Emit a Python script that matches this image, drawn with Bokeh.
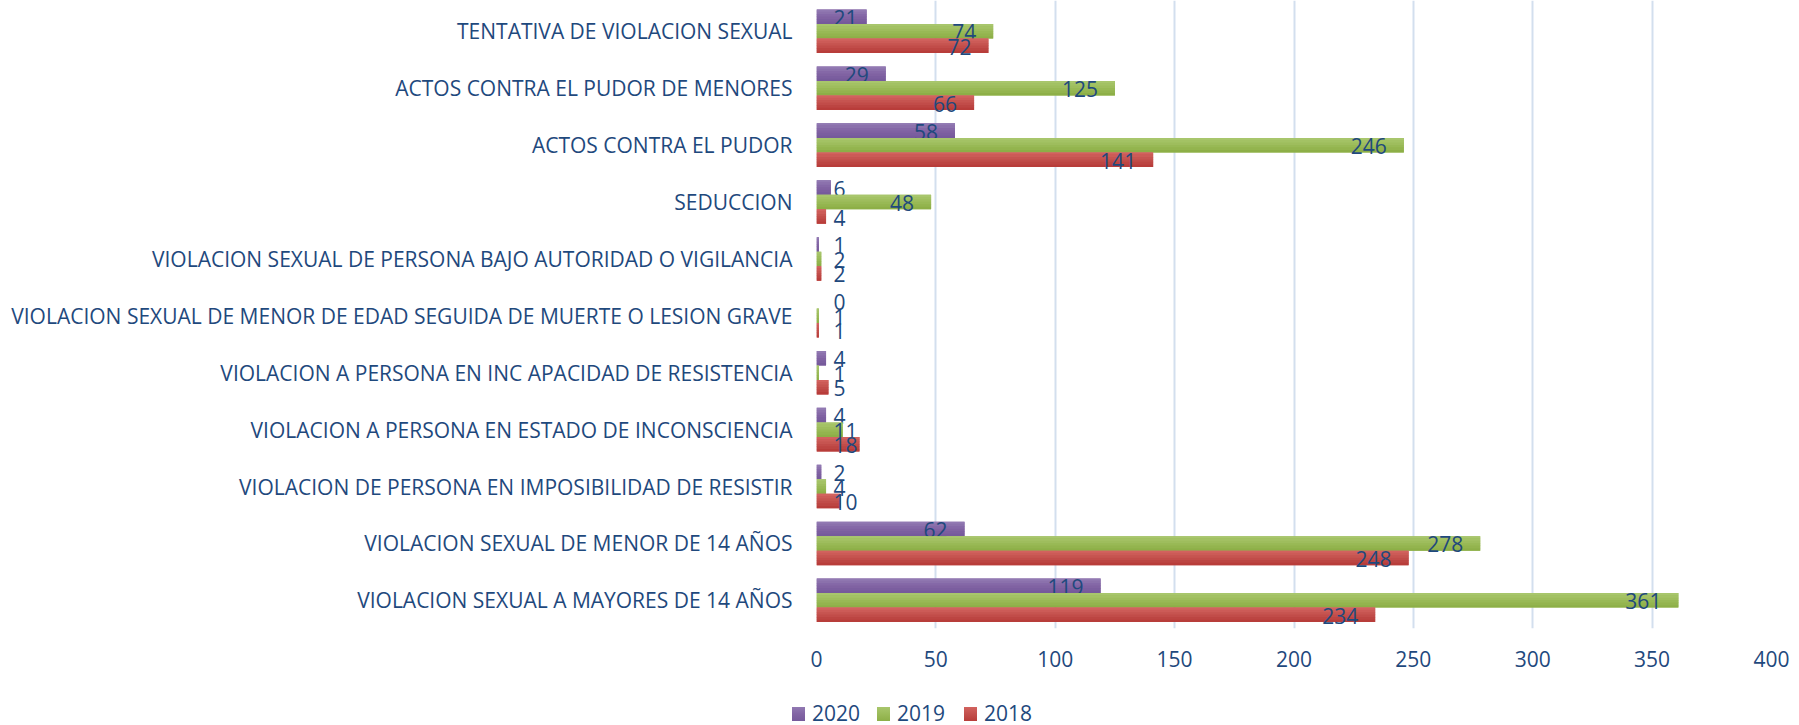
from bokeh.plotting import figure
from bokeh.layouts import column
from bokeh.models import Range1d, FixedTicker, Div
from bokeh.core.properties import value
from bokeh.embed import file_html
from bokeh.resources import INLINE

categories = [
    "TENTATIVA DE VIOLACION SEXUAL",
    "ACTOS CONTRA EL PUDOR DE MENORES",
    "ACTOS CONTRA EL PUDOR",
    "SEDUCCION",
    "VIOLACION SEXUAL DE PERSONA BAJO AUTORIDAD O VIGILANCIA",
    "VIOLACION SEXUAL DE MENOR DE EDAD SEGUIDA DE MUERTE O LESION GRAVE",
    "VIOLACION A PERSONA EN INC APACIDAD DE RESISTENCIA",
    "VIOLACION A PERSONA EN ESTADO DE INCONSCIENCIA",
    "VIOLACION DE PERSONA EN IMPOSIBILIDAD DE RESISTIR",
    "VIOLACION SEXUAL DE MENOR DE 14 AÑOS",
    "VIOLACION SEXUAL A MAYORES DE 14 AÑOS",
]
series_names = ["2020", "2019", "2018"]
v2020 = [21, 29, 58, 6, 1, 0, 4, 4, 2, 62, 119]
v2019 = [74, 125, 246, 48, 2, 1, 1, 11, 4, 278, 361]
v2018 = [72, 66, 141, 4, 2, 1, 5, 18, 10, 248, 234]
x_ticks = [0, 50, 100, 150, 200, 250, 300, 350, 400]

FONT = "Open Sans"
TXT = "#1F497D"
FS = "21px"
shades = {  # light top, base, dark bottom
    "2020": ["#9179B2", "#8264A4", "#765A9B"],
    "2019": ["#A8C66C", "#9BBB59", "#8DAF47"],
    "2018": ["#D2625E", "#C3504D", "#B83D3A"],
}


def mix(c1, c2, t):
    a = [int(c1[i:i + 2], 16) for i in (1, 3, 5)]
    b = [int(c2[i:i + 2], 16) for i in (1, 3, 5)]
    return "#" + "".join(f"{round(x + (y - x) * t):02X}" for x, y in zip(a, b))


W, H1, H2 = 1799, 690, 35
LEFT, RIGHT, TOP, BOTTOM = 816, 28, 0, 62
px_per_unit = (W - LEFT - RIGHT) / (x_ticks[-1] - x_ticks[0])

n = len(categories)
ycenter = [n - 1 - i for i in range(n)]

p = figure(width=W, height=H1, output_backend="svg", toolbar_location=None,
           x_range=Range1d(x_ticks[0], x_ticks[-1]), y_range=Range1d(-0.495, n - 1 + 0.542),
           min_border_left=LEFT, min_border_right=RIGHT, min_border_top=TOP,
           min_border_bottom=BOTTOM, margin=0)
p.outline_line_color = None
p.background_fill_color = "white"
p.border_fill_color = "white"

bar_h = 0.255
offsets = [bar_h, 0.0, -bar_h]
NS = 6
for s, vals, off in zip(series_names, [v2020, v2019, v2018], offsets):
    light, base, dark = shades[s]
    ys = [y + off for y in ycenter]
    p.hbar(y=ys, right=vals, left=0, height=bar_h, fill_color=base, line_color=None)
    strip = bar_h / NS
    for k in range(NS):
        t = k / (NS - 1)
        col = mix(light, base, t * 2) if t <= 0.5 else mix(base, dark, (t - 0.5) * 2)
        yk = [y + bar_h / 2 - strip * (k + 0.5) for y in ys]
        hk = strip * (1.0 if k in (0, NS - 1) else 1.2)
        p.hbar(y=yk, right=vals, left=0, height=hk, fill_color=col, line_color=None)

    # data labels (Excel "inside end", clamped to inside base)
    pad = 17
    in_x, in_y, in_t, cl_x, cl_y, cl_t = [], [], [], [], [], []
    for y, v in zip(ys, vals):
        tw = 11.8 * len(str(v))
        if v * px_per_unit - pad - tw < pad:
            cl_x.append(0); cl_y.append(y); cl_t.append(str(v))
        else:
            in_x.append(v); in_y.append(y); in_t.append(str(v))
    p.text(x=in_x, y=in_y, text=in_t, text_align="right", text_baseline="middle",
           x_offset=-pad, y_offset=1, text_font=value(FONT), text_font_size=FS, text_color=TXT)
    p.text(x=cl_x, y=cl_y, text=cl_t, text_align="left", text_baseline="middle",
           x_offset=pad, y_offset=1, text_font=value(FONT), text_font_size=FS, text_color=TXT)

# axes
p.xaxis.ticker = FixedTicker(ticks=x_ticks)
p.xaxis.axis_line_color = None
p.xaxis.major_tick_line_color = None
p.xaxis.minor_tick_line_color = None
p.xaxis.major_tick_out = 0
p.xaxis.major_tick_in = 0
p.xaxis.major_label_standoff = 22
p.xaxis.major_label_text_font = FONT
p.xaxis.major_label_text_font_size = FS
p.xaxis.major_label_text_color = TXT

p.yaxis.ticker = FixedTicker(ticks=ycenter)
p.yaxis.major_label_overrides = {y: c for y, c in zip(ycenter, categories)}
p.yaxis.axis_line_color = None
p.yaxis.major_tick_line_color = None
p.yaxis.minor_tick_line_color = None
p.yaxis.major_tick_out = 0
p.yaxis.major_tick_in = 0
p.yaxis.major_label_standoff = 24
p.yaxis.major_label_text_font = FONT
p.yaxis.major_label_text_font_size = FS
p.yaxis.major_label_text_color = TXT

p.xgrid.ticker = FixedTicker(ticks=x_ticks)
p.xgrid.grid_line_color = "#D3DFEE"
p.xgrid.grid_line_width = 2
p.ygrid.grid_line_color = None

# legend strip as HTML (exact pixel placement below the chart)
sq_left = [792, 877, 964]
parts = []
for s, x0 in zip(series_names, sq_left):
    light, base, dark = shades[s]
    parts.append(
        f'<span style="position:absolute;left:{x0}px;top:17px;width:13px;height:14px;'
        f'background:linear-gradient(to bottom,{light},{base},{dark});"></span>'
        f'<span style="position:absolute;left:{x0 + 20}px;top:13px;line-height:1;'
        f'white-space:nowrap;">{s}</span>')
html = (f'<div style="position:relative;width:{W}px;height:{H2}px;margin:0;padding:0;'
        f'font-family:\'{FONT}\';font-size:{FS};color:{TXT};">' + "".join(parts) + '</div>')
lg = Div(text=html, width=W, height=H2, margin=0)

layout = column(p, lg, spacing=0)
open("out.html", "w").write(file_html(layout, INLINE))
